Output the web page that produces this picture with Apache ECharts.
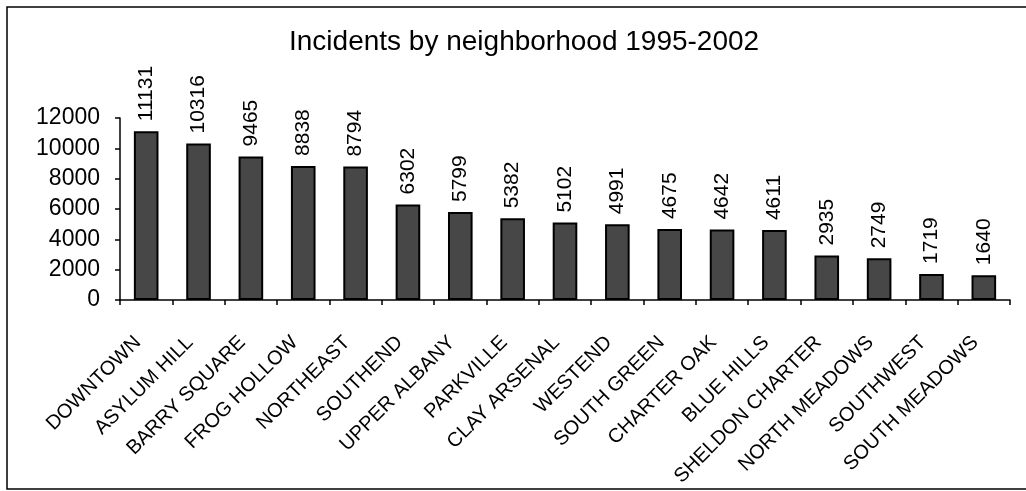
<!DOCTYPE html>
<html>
<head>
<meta charset="utf-8">
<script src="https://cdn.jsdelivr.net/npm/echarts@6/dist/echarts.min.js"></script>
<style>
    html, body { margin: 0; padding: 0; background: #fff; }
    #chart { width: 1026px; height: 491px; }
</style>
</head>
<body>
<div id="chart"></div>
<script>
// Incidents by neighborhood 1995-2002
var neighborhoods = ['DOWNTOWN', 'ASYLUM HILL', 'BARRY SQUARE', 'FROG HOLLOW', 'NORTHEAST', 'SOUTHEND',
    'UPPER ALBANY', 'PARKVILLE', 'CLAY ARSENAL', 'WESTEND', 'SOUTH GREEN', 'CHARTER OAK',
    'BLUE HILLS', 'SHELDON CHARTER', 'NORTH MEADOWS', 'SOUTHWEST', 'SOUTH MEADOWS'];
var incidents = [11131, 10316, 9465, 8838, 8794, 6302, 5799, 5382, 5102, 4991, 4675, 4642, 4611, 2935, 2749, 1719, 1640];
var yTicks = [0, 2000, 4000, 6000, 8000, 10000, 12000];

var chart = echarts.init(document.getElementById('chart'));
var option = {
    backgroundColor: '#fff',
    animation: false,
    textStyle: { fontFamily: 'Liberation Sans, Arial, sans-serif', color: '#000' },
    title: {
        text: 'Incidents by neighborhood 1995-2002',
        left: 284,
        top: 23,
        textStyle: { fontSize: 28, fontWeight: 'normal', color: '#000' }
    },
    graphic: [{
        type: 'rect',
        shape: { x: 7, y: 7, width: 1030, height: 482 },
        style: { fill: 'none', stroke: '#000', lineWidth: 1.5 },
        silent: true
    }],
    grid: { left: 120, right: 16, top: 118, bottom: 191 },
    xAxis: {
        type: 'category',
        data: neighborhoods,
        axisLine: { lineStyle: { color: '#000', width: 1.5 } },
        axisTick: { show: true, alignWithLabel: false, length: 5, lineStyle: { color: '#000', width: 1.5 } },
        axisLabel: {
            interval: 0,
            rotate: 45,
            fontSize: 20,
            color: '#000',
            margin: 31,
            padding: [0, 12, 0, 0]
        }
    },
    yAxis: {
        type: 'value',
        min: yTicks[0],
        max: yTicks[yTicks.length - 1],
        interval: 2000,
        splitLine: { show: false },
        axisLine: { show: true, lineStyle: { color: '#000', width: 1.5 } },
        axisTick: { show: true, length: 5, lineStyle: { color: '#000', width: 1.5 } },
        axisLabel: {
            fontSize: 23,
            color: '#000',
            margin: 20,
            formatter: function (v) { return String(v); }
        }
    },
    series: [{
        type: 'bar',
        data: incidents,
        barWidth: '47%',
        itemStyle: { color: '#474747', borderColor: '#000', borderWidth: 2 },
        label: {
            show: true,
            position: 'top',
            rotate: 90,
            align: 'left',
            verticalAlign: 'middle',
            distance: 10,
            fontSize: 21,
            color: '#000'
        }
    }]
};
chart.setOption(option);

window.onresize = chart.resize;
</script>
</body>
</html>
